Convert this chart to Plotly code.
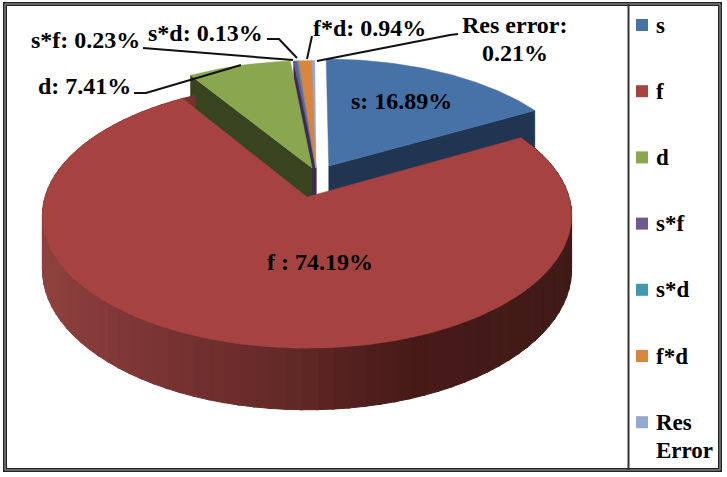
"""3D 느낌의 분리형 원그래프. plotly에 3D pie가 없어서 Scatter fill로 직접 그린다."""
import numpy as np
import plotly.graph_objects as go

NAMES = ["s", "f", "d", "s*f", "s*d", "f*d", "Res<br>Error"]
VALUES = [16.89, 74.19, 7.41, 0.23, 0.13, 0.94, 0.21]
LABELS = ["s: 16.89%", "f : 74.19%", "d: 7.41%", "s*f: 0.23%", "s*d: 0.13%",
          "f*d: 0.94%", "Res error:<br>0.21%"]

COLORS = ["#4672a8", "#a64341", "#8aa64e", "#71588f", "#4198af", "#db843d", "#93a9cf"]
WALL_COLORS = ["#1f3552", "#602825", "#384420", "#3a2a55", "#3a2a55", "#3a2a55", "#3a2a55"]

# 라벨 위치 (px)
LABEL_POS = [(401, 101), (320, 262), (84, 86), (85, 40), (205, 33), (369, 28), (515, 25)]
# 지시선 (px)
LEADERS = [
    [(134, 93), (146, 93), (241, 65)],
    [(143, 48), (293, 60)],
    [(267, 39), (279, 39), (297, 58)],
    [(312, 36), (307, 59)],
    [(458, 34), (450, 35), (317, 61)],
]

FONT = "Liberation Serif"
TEXT_SIZE = 24
LEGEND_SIZE = 23
LINE_GAP = 28
W, H = 727, 477

# 투영 파라미터
CX, CY = 307, 197
RX, RY = 262, 130
PERSP = 0.14
DEPTH = 53


def project(X, Y, drop=False):
    """원판 좌표 -> 화면 좌표(px)."""
    X, Y = np.asarray(X, float), np.asarray(Y, float)
    d = 1 + PERSP * Y
    sx = CX + RX * X / d
    sy = CY - RY * Y / d
    if drop:
        sy = sy + DEPTH / d
    return sx, sy


def rim(a0, a1, off):
    n = max(int(abs(a1 - a0)), 2)
    t = np.radians(np.linspace(a0, a1, n))
    return np.sin(t) + off[0], np.cos(t) + off[1]


def polygon(xs, ys, color, name=None, width=0.5):
    return go.Scatter(
        x=xs, y=ys, mode="lines", fill="toself", fillcolor=color,
        line=dict(color=color, width=width), name=name,
        hoverinfo="name" if name else "skip", showlegend=False,
    )


def slice_offset(i):
    if i == 0:
        return (0.086, 0.246)
    if i == 1:
        return (0.0, 0.0)
    if i == 2:
        return (0.02, 0.23)
    return (0.035, 0.23)


def add_text(fig, text, x, y, size=TEXT_SIZE, **kw):
    # 줄 간격을 맞추려고 줄마다 따로 넣는다
    for k, line in enumerate(text.split("<br>")):
        fig.add_annotation(
            x=x, y=y + k * LINE_GAP, text=f"<b>{line}</b>", showarrow=False,
            font=dict(family=FONT, size=size, color="#000"), **kw,
        )


fig = go.Figure()

edges = np.concatenate([[0], np.cumsum(VALUES)]) * 3.6

# 옆면: 얇은 조각 먼저, d 옆면이 그 앞을 덮는다
for i in [0, 6, 5, 4, 3, 2]:
    off = slice_offset(i)
    wall_angle = edges[i + 1] if i == 0 else edges[i]
    t = np.radians(wall_angle)
    X = np.array([off[0], off[0] + np.sin(t)])
    Y = np.array([off[1], off[1] + np.cos(t)])
    tx, ty = project(X, Y)
    bx, by = project(X, Y, drop=True)
    fig.add_trace(polygon(np.r_[tx, bx[::-1], tx[0]], np.r_[ty, by[::-1], ty[0]], WALL_COLORS[i]))

# 윗면은 옆면을 덮도록 나중에
for i in [0, 2, 3, 4, 5, 6]:
    off = slice_offset(i)
    rx, ry = rim(edges[i], edges[i + 1], off)
    sx, sy = project(np.r_[off[0], rx, off[0]], np.r_[off[1], ry, off[1]])
    fig.add_trace(polygon(sx, sy, COLORS[i], NAMES[i].replace("<br>", " ")))

# f 조각 옆면: 왼쪽 밝고 오른쪽 어두운 그라데이션
GRAD_X = [41, 130, 300, 400, 572]
GRAD_R = [143, 126, 96, 72, 63]
GRAD_G = [66, 54, 40, 26, 27]
GRAD_B = [62, 54, 37, 24, 23]
steps = np.arange(edges[1], edges[2], 3.0)
for a in steps:
    rx, ry = rim(a, a + 3.5, (0, 0))
    tx, ty = project(rx, ry)
    bx, by = project(rx, ry, drop=True)
    mid = tx.mean()
    col = "rgb({:.0f},{:.0f},{:.0f})".format(
        np.interp(mid, GRAD_X, GRAD_R),
        np.interp(mid, GRAD_X, GRAD_G),
        np.interp(mid, GRAD_X, GRAD_B),
    )
    fig.add_trace(polygon(np.r_[tx, bx[::-1], tx[0]], np.r_[ty, by[::-1], ty[0]], col, width=1))

rx, ry = rim(edges[1], edges[2], (0, 0))
sx, sy = project(np.r_[0, rx, 0], np.r_[0, ry, 0])
fig.add_trace(polygon(sx, sy, COLORS[1], "f"))

# 범례: 사각형 + 텍스트
for i, (name, color) in enumerate(zip(NAMES, COLORS)):
    ly = 25 + i * 66.2
    fig.add_trace(go.Scatter(
        x=[642], y=[ly], mode="markers",
        marker=dict(symbol="square", size=12, color=color),
        hoverinfo="skip", showlegend=False,
    ))
    add_text(fig, name, 654, ly, size=LEGEND_SIZE, xanchor="left", yanchor="middle")

for text, (px, py) in zip(LABELS, LABEL_POS):
    add_text(fig, text, px, py)

shapes = []
for pts in LEADERS:
    path = "M " + " L ".join(f"{x},{y}" for x, y in pts)
    shapes.append(dict(type="path", path=path, line=dict(color="#111", width=2)))

# 바깥 테두리와 범례 구분선
shapes += [
    dict(type="rect", x0=5, y0=4, x1=720, y1=470, line=dict(color="#222", width=4)),
    dict(type="rect", x0=5, y0=4, x1=720, y1=470, line=dict(color="#aaa", width=1)),
    dict(type="line", x0=628.5, y0=4, x1=628.5, y1=470, line=dict(color="#333", width=2)),
]

fig.update_layout(
    width=W, height=H,
    margin=dict(l=0, r=0, t=0, b=0),
    paper_bgcolor="white", plot_bgcolor="white",
    xaxis=dict(range=[0, W], visible=False, fixedrange=True),
    yaxis=dict(range=[H, 0], visible=False, fixedrange=True),
    shapes=shapes,
    showlegend=False,
)
fig.write_html("out.html", config=dict(displayModeBar=False),
               post_script="document.body.style.margin='0';")
